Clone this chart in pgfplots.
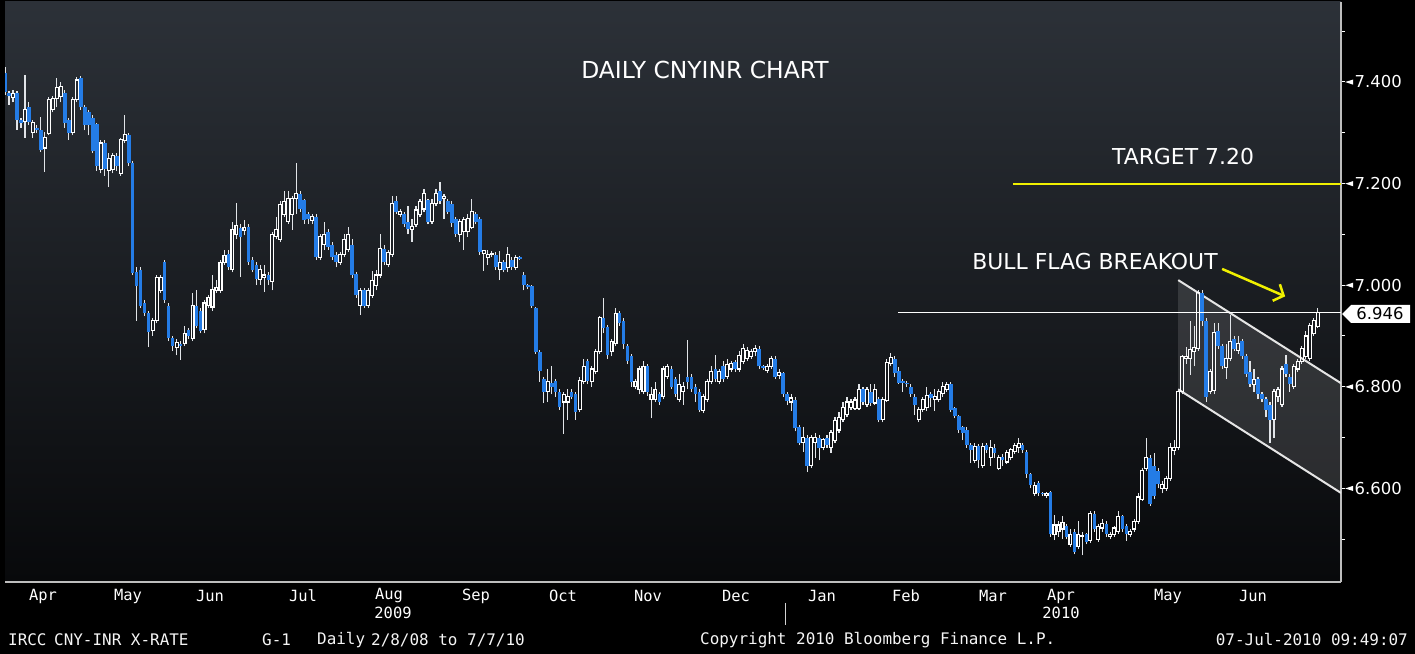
\documentclass[border=0pt]{standalone}
\usepackage{fontspec}
\setmainfont{DejaVu Sans}
\newfontfamily\bbmono{DejaVu Sans Mono}
\usepackage{graphicx}
\usepackage{pgfplots}
\pgfplotsset{compat=1.18}
\usepackage{pgfplotstable}
\usetikzlibrary{arrows.meta}
\definecolor{bgtop}{RGB}{44,49,56}
\definecolor{bgmid}{RGB}{24,27,31}
\definecolor{bgbot}{RGB}{8,9,11}
\definecolor{cblue}{RGB}{36,124,230}
\definecolor{wickc}{RGB}{225,228,232}
\definecolor{tgt}{RGB}{240,240,0}
\definecolor{axgray}{RGB}{190,190,190}
\newcommand\yl[1]{\tikz[baseline=-0.36em]\fill[white](0,0)--(8bp,2.6bp)--(8bp,-2.6bp)--cycle;\hspace{1.5bp}#1}

\pgfplotstableread{
d o h l c
1 7.418 7.430 7.375 7.380
2 7.378 7.382 7.355 7.372
3 7.370 7.385 7.360 7.378
4 7.378 7.382 7.306 7.325
5 7.325 7.330 7.310 7.320
6 7.322 7.414 7.290 7.345
7 7.350 7.360 7.315 7.322
8 7.300 7.325 7.290 7.320
9 7.310 7.315 7.300 7.305
10 7.306 7.331 7.262 7.266
11 7.270 7.302 7.223 7.290
12 7.298 7.370 7.295 7.365
13 7.345 7.372 7.340 7.368
14 7.368 7.408 7.350 7.390
15 7.372 7.400 7.360 7.392
16 7.378 7.385 7.310 7.319
17 7.325 7.330 7.286 7.300
18 7.300 7.370 7.295 7.365
19 7.365 7.410 7.360 7.404
20 7.408 7.412 7.345 7.350
21 7.350 7.355 7.305 7.315
22 7.340 7.345 7.295 7.315
23 7.330 7.335 7.260 7.265
24 7.317 7.320 7.225 7.235
25 7.227 7.285 7.220 7.280
26 7.280 7.285 7.215 7.228
27 7.225 7.260 7.193 7.250
28 7.227 7.260 7.220 7.256
29 7.255 7.260 7.225 7.235
30 7.220 7.290 7.215 7.286
31 7.285 7.335 7.280 7.296
32 7.296 7.300 7.235 7.240
33 7.240 7.245 7.020 7.024
34 7.025 7.035 6.930 6.998
35 7.030 7.035 6.955 6.960
36 6.965 6.970 6.940 6.945
37 6.945 6.950 6.878 6.908
38 6.910 6.935 6.900 6.930
39 6.930 7.020 6.925 7.016
40 6.990 7.020 6.985 7.015
41 7.045 7.050 6.965 6.971
42 6.960 6.965 6.890 6.896
43 6.896 6.900 6.870 6.880
44 6.878 6.895 6.862 6.888
45 6.885 6.890 6.853 6.880
46 6.885 6.920 6.880 6.905
47 6.912 6.915 6.895 6.900
48 6.895 6.985 6.890 6.960
49 6.960 6.990 6.915 6.920
50 6.950 6.955 6.905 6.910
51 6.912 6.970 6.905 6.965
52 6.960 6.980 6.955 6.975
53 6.957 7.020 6.950 6.991
54 6.990 7.010 6.985 6.995
55 6.990 7.050 6.985 7.045
56 7.045 7.070 7.040 7.058
57 7.062 7.070 7.030 7.035
58 7.030 7.125 7.025 7.110
59 7.100 7.162 7.090 7.118
60 7.112 7.120 7.016 7.095
61 7.108 7.128 7.098 7.113
62 7.115 7.120 7.040 7.045
63 7.050 7.055 7.025 7.030
64 7.040 7.045 7.000 7.013
65 7.012 7.040 7.000 7.030
66 7.015 7.040 6.987 7.020
67 7.020 7.025 7.000 7.010
68 7.008 7.105 6.990 7.100
69 7.095 7.135 7.090 7.110
70 7.090 7.165 7.085 7.158
71 7.140 7.185 7.135 7.165
72 7.125 7.185 7.120 7.170
73 7.140 7.175 7.109 7.170
74 7.170 7.241 7.140 7.180
75 7.180 7.185 7.145 7.150
76 7.168 7.170 7.120 7.128
77 7.140 7.145 7.120 7.130
78 7.128 7.140 7.120 7.135
79 7.135 7.140 7.050 7.056
80 7.055 7.100 7.050 7.095
81 7.080 7.125 7.070 7.100
82 7.105 7.110 7.070 7.075
83 7.080 7.085 7.050 7.055
84 7.060 7.065 7.035 7.045
85 7.045 7.065 7.040 7.060
86 7.060 7.100 7.055 7.090
87 7.070 7.115 7.065 7.100
88 7.080 7.090 7.015 7.020
89 7.022 7.025 6.975 6.980
90 6.960 6.995 6.942 6.990
91 6.990 6.995 6.955 6.960
92 6.960 6.995 6.955 6.990
93 6.980 7.028 6.975 7.010
94 7.000 7.030 6.990 7.020
95 7.020 7.100 7.015 7.072
96 7.072 7.080 7.040 7.045
97 7.040 7.070 7.035 7.065
98 7.060 7.175 7.055 7.160
99 7.165 7.175 7.140 7.145
100 7.140 7.150 7.135 7.145
101 7.140 7.145 7.115 7.120
102 7.125 7.155 7.100 7.110
103 7.110 7.130 7.086 7.115
104 7.120 7.155 7.115 7.148
105 7.140 7.170 7.135 7.165
106 7.150 7.190 7.145 7.180
107 7.168 7.170 7.120 7.125
108 7.125 7.170 7.120 7.160
109 7.160 7.190 7.155 7.180
110 7.185 7.203 7.160 7.165
111 7.170 7.180 7.130 7.175
112 7.165 7.170 7.140 7.145
113 7.160 7.165 7.115 7.122
114 7.130 7.135 7.095 7.100
115 7.100 7.130 7.085 7.125
116 7.105 7.135 7.070 7.130
117 7.105 7.140 7.095 7.132
118 7.113 7.170 7.110 7.145
119 7.140 7.145 7.120 7.125
120 7.130 7.135 7.060 7.066
121 7.062 7.070 7.028 7.068
122 7.055 7.070 7.040 7.060
123 7.060 7.068 7.055 7.063
124 7.060 7.065 7.030 7.035
125 7.030 7.068 7.010 7.045
126 7.045 7.050 7.025 7.030
127 7.035 7.075 7.025 7.060
128 7.050 7.055 7.030 7.035
129 7.035 7.060 7.030 7.055
130 7.055 7.057 7.050 7.052
131 7.020 7.025 6.990 7.000
132 7.000 7.002 6.992 6.997
133 6.998 7.000 6.955 6.960
134 6.955 6.958 6.865 6.868
135 6.868 6.872 6.810 6.832
136 6.815 6.820 6.768 6.790
137 6.790 6.835 6.770 6.810
138 6.808 6.840 6.785 6.800
139 6.812 6.815 6.780 6.790
140 6.790 6.795 6.755 6.760
141 6.770 6.790 6.708 6.785
142 6.770 6.795 6.735 6.780
143 6.790 6.795 6.775 6.780
144 6.785 6.790 6.735 6.750
145 6.756 6.820 6.750 6.813
146 6.810 6.855 6.805 6.840
147 6.850 6.855 6.805 6.812
148 6.810 6.840 6.800 6.835
149 6.830 6.875 6.825 6.870
150 6.870 6.940 6.865 6.937
151 6.935 6.975 6.905 6.915
152 6.918 6.922 6.855 6.862
153 6.870 6.895 6.860 6.890
154 6.885 6.955 6.880 6.945
155 6.945 6.950 6.920 6.925
156 6.930 6.935 6.875 6.885
157 6.880 6.885 6.845 6.850
158 6.860 6.865 6.800 6.810
159 6.800 6.815 6.795 6.810
160 6.795 6.840 6.785 6.835
161 6.790 6.850 6.785 6.840
162 6.840 6.845 6.782 6.790
163 6.775 6.800 6.738 6.785
164 6.775 6.810 6.770 6.795
165 6.785 6.790 6.765 6.770
166 6.780 6.840 6.775 6.835
167 6.820 6.845 6.815 6.840
168 6.835 6.840 6.795 6.800
169 6.815 6.820 6.780 6.785
170 6.775 6.825 6.770 6.805
171 6.790 6.810 6.765 6.800
172 6.820 6.892 6.795 6.810
173 6.820 6.825 6.790 6.795
174 6.800 6.805 6.770 6.785
175 6.790 6.795 6.750 6.755
176 6.753 6.785 6.748 6.780
177 6.775 6.815 6.770 6.810
178 6.810 6.840 6.805 6.830
179 6.835 6.862 6.810 6.815
180 6.810 6.835 6.805 6.830
181 6.840 6.850 6.810 6.815
182 6.820 6.855 6.815 6.843
183 6.835 6.850 6.830 6.845
184 6.848 6.852 6.830 6.835
185 6.835 6.870 6.830 6.862
186 6.850 6.885 6.845 6.875
187 6.855 6.878 6.850 6.872
188 6.860 6.875 6.855 6.870
189 6.870 6.882 6.860 6.876
190 6.875 6.880 6.835 6.840
191 6.840 6.843 6.834 6.837
192 6.832 6.845 6.828 6.840
193 6.840 6.860 6.835 6.855
194 6.855 6.860 6.815 6.820
195 6.822 6.835 6.815 6.828
196 6.828 6.830 6.780 6.785
197 6.785 6.790 6.765 6.772
198 6.770 6.785 6.752 6.778
199 6.774 6.780 6.712 6.718
200 6.720 6.725 6.685 6.690
201 6.690 6.720 6.672 6.700
202 6.700 6.705 6.632 6.645
203 6.645 6.705 6.640 6.700
204 6.690 6.710 6.660 6.700
205 6.700 6.705 6.655 6.680
206 6.680 6.700 6.675 6.697
207 6.700 6.705 6.680 6.685
208 6.680 6.715 6.670 6.710
209 6.695 6.740 6.690 6.733
210 6.715 6.750 6.710 6.740
211 6.735 6.770 6.730 6.760
212 6.745 6.780 6.740 6.770
213 6.760 6.775 6.755 6.770
214 6.758 6.780 6.755 6.774
215 6.758 6.805 6.755 6.794
216 6.795 6.800 6.765 6.770
217 6.765 6.800 6.760 6.795
218 6.790 6.805 6.763 6.768
219 6.768 6.805 6.765 6.795
220 6.775 6.780 6.730 6.735
221 6.735 6.780 6.730 6.775
222 6.773 6.855 6.770 6.848
223 6.845 6.867 6.840 6.858
224 6.855 6.860 6.820 6.828
225 6.832 6.838 6.805 6.808
226 6.812 6.815 6.790 6.808
227 6.808 6.812 6.800 6.805
228 6.800 6.805 6.780 6.785
229 6.780 6.785 6.745 6.765
230 6.735 6.760 6.730 6.755
231 6.755 6.780 6.750 6.775
232 6.760 6.800 6.752 6.783
233 6.785 6.790 6.760 6.778
234 6.775 6.795 6.752 6.780
235 6.775 6.795 6.770 6.790
236 6.787 6.810 6.780 6.800
237 6.795 6.810 6.790 6.805
238 6.805 6.810 6.750 6.755
239 6.758 6.760 6.738 6.742
240 6.742 6.745 6.710 6.715
241 6.720 6.722 6.695 6.710
242 6.715 6.720 6.680 6.685
243 6.685 6.690 6.650 6.675
244 6.655 6.690 6.650 6.683
245 6.683 6.688 6.640 6.655
246 6.645 6.690 6.640 6.683
247 6.685 6.690 6.670 6.675
248 6.660 6.695 6.645 6.680
249 6.680 6.688 6.660 6.670
250 6.640 6.665 6.636 6.660
251 6.662 6.668 6.645 6.655
252 6.652 6.675 6.648 6.670
253 6.660 6.680 6.655 6.676
254 6.672 6.690 6.668 6.685
255 6.680 6.700 6.670 6.688
256 6.686 6.690 6.670 6.675
257 6.672 6.675 6.620 6.628
258 6.628 6.630 6.600 6.607
259 6.590 6.612 6.585 6.606
260 6.610 6.615 6.585 6.590
261 6.590 6.593 6.585 6.588
262 6.586 6.592 6.582 6.590
263 6.592 6.595 6.505 6.510
264 6.510 6.548 6.498 6.528
265 6.515 6.535 6.505 6.528
266 6.520 6.545 6.500 6.532
267 6.525 6.530 6.500 6.505
268 6.490 6.520 6.485 6.510
269 6.515 6.520 6.470 6.475
270 6.485 6.535 6.480 6.510
271 6.505 6.515 6.468 6.508
272 6.510 6.512 6.490 6.495
273 6.498 6.555 6.493 6.550
274 6.550 6.555 6.515 6.520
275 6.500 6.530 6.495 6.525
276 6.522 6.540 6.515 6.530
277 6.530 6.535 6.505 6.510
278 6.505 6.515 6.500 6.510
279 6.510 6.525 6.505 6.522
280 6.515 6.556 6.510 6.545
281 6.545 6.548 6.515 6.520
282 6.525 6.530 6.497 6.510
283 6.510 6.520 6.505 6.515
284 6.520 6.540 6.515 6.535
285 6.535 6.590 6.530 6.583
286 6.578 6.640 6.575 6.636
287 6.640 6.700 6.635 6.660
288 6.660 6.665 6.565 6.570
289 6.645 6.670 6.580 6.585
290 6.635 6.640 6.600 6.608
291 6.600 6.615 6.590 6.608
292 6.600 6.625 6.595 6.620
293 6.620 6.690 6.615 6.680
294 6.675 6.695 6.665 6.680
295 6.680 6.795 6.675 6.790
296 6.790 6.862 6.785 6.860
297 6.855 6.878 6.845 6.860
298 6.855 6.930 6.824 6.873
299 6.870 6.920 6.840 6.878
300 6.875 6.990 6.870 6.985
301 6.985 6.990 6.920 6.930
302 6.930 6.935 6.770 6.780
303 6.790 6.835 6.785 6.830
304 6.792 6.925 6.785 6.906
305 6.910 6.925 6.875 6.880
306 6.880 6.885 6.835 6.840
307 6.838 6.885 6.815 6.855
308 6.855 6.942 6.850 6.890
309 6.895 6.900 6.870 6.875
310 6.872 6.900 6.865 6.885
311 6.890 6.895 6.855 6.860
312 6.860 6.865 6.820 6.825
313 6.830 6.850 6.800 6.805
314 6.805 6.835 6.790 6.815
315 6.815 6.820 6.775 6.785
316 6.785 6.790 6.770 6.775
317 6.775 6.780 6.740 6.755
318 6.765 6.770 6.690 6.735
319 6.735 6.795 6.700 6.790
320 6.780 6.800 6.770 6.795
321 6.765 6.840 6.760 6.835
322 6.845 6.862 6.820 6.825
323 6.820 6.825 6.790 6.805
324 6.800 6.845 6.795 6.840
325 6.835 6.855 6.830 6.850
326 6.850 6.880 6.845 6.875
327 6.860 6.910 6.855 6.900
328 6.855 6.925 6.850 6.920
329 6.905 6.935 6.900 6.930
330 6.918 6.955 6.915 6.946
}\candles

\pgfplotsset{
  cerr/.style={draw=none, mark=none, forget plot},
}

\begin{document}
\begin{tikzpicture}
\useasboundingbox (0,0) rectangle (1415bp,654bp);
\fill[black] (0,0) rectangle (1415bp,654bp);
\begin{axis}[
  at={(5bp,72bp)}, anchor=south west, scale only axis,
  width=1336bp, height=580bp,
  xmin=1.0, xmax=335.8, ymin=6.4157, ymax=7.5575,
  axis x line*=bottom, axis y line*=right,
  axis line style={draw=axgray, line width=1.3bp, -},
  axis background/.style={top color=bgtop, middle color=bgmid, bottom color=bgbot},
  xtick=\empty,
  minor xtick={21.5,42.5,64.5,87.5,108.5,130.5,152.5,173.5,196.5,217.5,237.5,260.5,282.5,303.5,325.5},
  minor tick length=8bp, major tick length=4bp, tick align=outside,
  xtick style={draw=axgray, line width=1bp},
  ytick={6.5,6.6,6.7,6.8,6.9,7.0,7.1,7.2,7.3,7.4,7.5},
  yticklabels={,\yl{6.600},,\yl{6.800},,\yl{7.000},,\yl{7.200},,\yl{7.400},},
  ytick style={draw=white, line width=1bp},
  yticklabel style={font=\fontsize{16.5}{18}\selectfont, text=white, anchor=west, inner sep=0pt},
]
% channel
\addplot[forget plot, draw=none, fill=white, fill opacity=0.12] coordinates {(295,7.010) (335.8,6.807) (335.8,6.591) (295,6.795) (295,7.010)};
\addplot[forget plot, draw=white!80!gray, line width=2bp] coordinates {(295,7.010) (335.8,6.807)};
\addplot[forget plot, draw=white!80!gray, line width=2bp] coordinates {(295,6.795) (335.8,6.591)};
% wicks
\addplot[cerr, error bars/.cd, y dir=plus, y explicit, error mark=none, error bar style={draw=wickc, line width=1.1bp}]
  table[x=d, y expr={max(\thisrow{o},\thisrow{c})}, y error plus expr={max(0,\thisrow{h}-max(\thisrow{o},\thisrow{c}))}] {\candles};
\addplot[cerr, error bars/.cd, y dir=plus, y explicit, error mark=none, error bar style={draw=wickc, line width=1.1bp}]
  table[x=d, y=l, y error plus expr={max(0,min(\thisrow{o},\thisrow{c})-\thisrow{l})}] {\candles};
% down bodies
\addplot[cerr, restrict y to domain=6:8, error bars/.cd, y dir=plus, y explicit, error mark=none, error bar style={draw=cblue, line width=3.6bp}]
  table[x=d, y expr={(\thisrow{c}<\thisrow{o}) ? \thisrow{c} : 0}, y error plus expr={abs(\thisrow{o}-\thisrow{c})}] {\candles};
% up bodies (hollow)
\addplot[cerr, restrict y to domain=6:8, error bars/.cd, y dir=plus, y explicit, error mark=none, error bar style={draw=white, line width=1.1bp}]
  table[x expr={\thisrow{d}-0.37}, y expr={(\thisrow{c}>=\thisrow{o}) ? \thisrow{o} : 0}, y error plus expr={abs(\thisrow{c}-\thisrow{o})}] {\candles};
\addplot[cerr, restrict y to domain=6:8, error bars/.cd, y dir=plus, y explicit, error mark=none, error bar style={draw=white, line width=1.1bp}]
  table[x expr={\thisrow{d}+0.37}, y expr={(\thisrow{c}>=\thisrow{o}) ? \thisrow{o} : 0}, y error plus expr={abs(\thisrow{c}-\thisrow{o})}] {\candles};
\addplot[cerr, restrict y to domain=6:8, error bars/.cd, x dir=plus, x explicit, error mark=none, error bar style={draw=white, line width=1.1bp}]
  table[x expr={\thisrow{d}-0.508}, y expr={(\thisrow{c}>=\thisrow{o}) ? \thisrow{o} : 0}, x error plus expr=1.016] {\candles};
\addplot[cerr, restrict y to domain=6:8, error bars/.cd, x dir=plus, x explicit, error mark=none, error bar style={draw=white, line width=1.1bp}]
  table[x expr={\thisrow{d}-0.508}, y expr={(\thisrow{c}>=\thisrow{o}) ? \thisrow{c} : 0}, x error plus expr=1.016] {\candles};
% levels
\addplot[forget plot, draw=white, line width=1.3bp] coordinates {(224.8,6.946) (335.8,6.946)};
\addplot[forget plot, draw={rgb,255:red,240;green,240;blue,0}, line width=2bp] coordinates {(253.6,7.2) (335.8,7.2)};
\addplot[forget plot, draw=tgt, line width=2.5bp, -{Straight Barb[length=8bp,width=18bp]}] coordinates {(306,7.032) (321.8,6.978)};
\end{axis}
% annotations
\node[text=white, font=\fontsize{23.5}{27}\selectfont] at (705bp,584bp) {DAILY CNYINR CHART};
\node[text=white, font=\fontsize{22}{26}\selectfont] at (1183bp,497bp) {TARGET 7.20};
\node[text=white, font=\fontsize{22}{26}\selectfont] at (1095bp,392bp) {BULL FLAG BREAKOUT};
% last price tag
\fill[white] (1342bp,340bp) -- (1351bp,349bp) -- (1410bp,349bp) -- (1410bp,331bp) -- (1351bp,331bp) -- cycle;
\node[text=black, font=\fontsize{16.5}{18}\selectfont] at (1380bp,340bp) {6.946};
% month labels
\foreach \x/\m in {43/Apr,128/May,210/Jun,303/Jul,389/Aug,476/Sep,563/Oct,648/Nov,736/Dec,822/Jan,906/Feb,993/Mar,1061/Apr,1168/May,1253/Jun}
  \node[text=white, font=\bbmono\fontsize{15.5}{18}\selectfont] at (\x bp,58bp) {\m};
\node[text=white, font=\bbmono\fontsize{15.5}{18}\selectfont] at (393bp,41bp) {2009};
\node[text=white, font=\bbmono\fontsize{15.5}{18}\selectfont] at (1061bp,41bp) {2010};
\draw[axgray!70, line width=0.8bp] (785bp,51bp) -- (785bp,29bp);
% status line
\begin{scope}[every node/.style={text=white!92!gray, font=\bbmono\fontsize{16}{18}\selectfont, anchor=west, inner sep=0pt}]
\node at (8bp,14bp) {IRCC};
\node at (54bp,14bp) {CNY-INR X-RATE};
\node at (262bp,14bp) {G-1};
\node at (317bp,14bp) {Daily};
\node at (371bp,14bp) {2/8/08 to 7/7/10};
\node at (700bp,14bp) {Copyright 2010 Bloomberg Finance L.P.};
\node[anchor=east] at (1408bp,14bp) {07-Jul-2010 09:49:07};
\end{scope}
\end{tikzpicture}
\end{document}
